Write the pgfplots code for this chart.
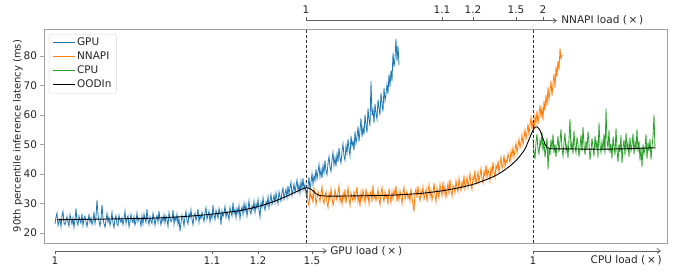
\documentclass[border=0pt]{standalone}
\usepackage{pgfplots}
\pgfplotsset{compat=1.18}
\usepackage{fontspec}
\setmainfont{DejaVu Sans}
\usetikzlibrary{arrows.meta}
\definecolor{gpu}{HTML}{1F77B4}
\definecolor{nnapi}{HTML}{FF7F0E}
\definecolor{cpu}{HTML}{2CA02C}
\definecolor{spine}{HTML}{A0A0A0}
\definecolor{txt}{HTML}{262626}
\begin{document}
\begin{tikzpicture}[font=\fontsize{10.5bp}{12bp}\selectfont, text=txt]
\begin{axis}[
  scale only axis, width=623bp, height=214bp,
  xmin=44, xmax=667, ymin=16.61, ymax=89.15,
  xtick=\empty, ytick={20,30,...,80},
  tick align=outside, ytick pos=left, major tick length=3.5bp,
  tick style={spine, line width=0.7bp},
  axis line style={spine, line width=0.8bp},
  ylabel={90th percentile inference latency (ms)},
  ylabel style={at={(axis description cs:-0.042,0.5)}, anchor=center, font=\fontsize{10bp}{12bp}\selectfont},
  /pgf/number format/assume math mode=true,
  clip=false,
  legend style={at={(axis description cs:0.008,0.977)}, anchor=north west,
    draw=black!15, rounded corners=2bp, fill=white, fill opacity=0.8, text opacity=1,
    font=\fontsize{10.5bp}{12bp}\selectfont, row sep=0.8bp, inner xsep=3bp, inner ysep=2bp},
  legend cell align=left,
  legend image code/.code={\draw[#1] (0bp,0bp) -- (22bp,0bp);},
]
\addplot[gpu, line width=0.8bp] table[x expr=55+\coordindex, y=y, row sep=\\] {
y\\
23.1\\ 25.4\\ 26.8\\ 22.6\\ 23.9\\ 24.7\\ 22.1\\ 25.9\\ 27.3\\ 23.4\\
22.8\\ 24.1\\ 25.6\\ 23.7\\ 22.3\\ 26.2\\ 24.5\\ 23.0\\ 25.1\\ 21.9\\
24.6\\ 28.3\\ 23.5\\ 22.7\\ 25.8\\ 24.2\\ 23.3\\ 26.5\\ 22.5\\ 24.9\\
25.7\\ 23.8\\ 22.2\\ 24.4\\ 26.1\\ 23.6\\ 25.2\\ 22.9\\ 24.0\\ 27.2\\
23.2\\ 25.5\\ 31.2\\ 26.3\\ 23.9\\ 22.4\\ 24.8\\ 29.6\\ 25.0\\ 23.1\\
22.0\\ 24.3\\ 26.6\\ 23.7\\ 25.3\\ 22.6\\ 24.1\\ 27.0\\ 23.4\\ 21.8\\
24.7\\ 25.9\\ 23.0\\ 22.5\\ 26.0\\ 24.4\\ 23.6\\ 25.1\\ 22.8\\ 24.6\\
27.4\\ 23.3\\ 24.9\\ 25.8\\ 22.1\\ 23.8\\ 26.3\\ 24.2\\ 23.5\\ 25.6\\
22.7\\ 24.0\\ 26.8\\ 23.9\\ 25.2\\ 24.5\\ 22.4\\ 25.7\\ 23.1\\ 26.4\\
24.8\\ 23.6\\ 28.1\\ 24.3\\ 22.9\\ 25.5\\ 24.1\\ 23.2\\ 26.7\\ 25.0\\
22.6\\ 24.7\\ 25.9\\ 23.7\\ 27.5\\ 24.4\\ 22.8\\ 25.3\\ 24.0\\ 26.2\\
23.4\\ 25.8\\ 24.6\\ 22.3\\ 26.9\\ 25.1\\ 23.8\\ 24.5\\ 27.8\\ 23.0\\
25.4\\ 24.2\\ 26.4\\ 22.9\\ 25.0\\ 20.6\\ 23.5\\ 26.1\\ 24.8\\ 22.4\\
25.6\\ 27.3\\ 24.0\\ 23.1\\ 26.5\\ 25.2\\ 27.9\\ 24.6\\ 22.8\\ 25.9\\
26.7\\ 24.3\\ 25.5\\ 28.2\\ 23.6\\ 26.0\\ 24.9\\ 27.1\\ 25.4\\ 23.9\\
26.8\\ 28.6\\ 24.7\\ 25.9\\ 27.4\\ 23.8\\ 26.3\\ 25.1\\ 29.5\\ 26.0\\
24.5\\ 27.7\\ 26.2\\ 25.0\\ 28.3\\ 26.9\\ 22.8\\ 27.5\\ 25.6\\ 26.8\\
29.0\\ 25.3\\ 27.2\\ 26.1\\ 24.6\\ 28.7\\ 27.0\\ 25.8\\ 30.4\\ 26.6\\
27.9\\ 25.2\\ 28.4\\ 26.7\\ 29.3\\ 24.9\\ 27.6\\ 28.9\\ 26.3\\ 30.1\\
27.4\\ 29.6\\ 25.8\\ 28.1\\ 31.0\\ 27.3\\ 26.5\\ 29.2\\ 28.0\\ 30.7\\
26.9\\ 29.8\\ 28.5\\ 31.4\\ 27.7\\ 25.4\\ 30.3\\ 28.8\\ 32.0\\ 29.1\\
27.8\\ 30.6\\ 29.4\\ 32.3\\ 28.6\\ 31.0\\ 33.1\\ 29.7\\ 30.9\\ 32.8\\
30.2\\ 33.6\\ 31.4\\ 29.9\\ 34.0\\ 32.2\\ 30.8\\ 33.9\\ 35.2\\ 31.5\\
33.3\\ 34.8\\ 32.1\\ 36.0\\ 33.0\\ 35.4\\ 37.2\\ 32.7\\ 34.5\\ 36.6\\
33.8\\ 35.9\\ 38.0\\ 34.2\\ 36.4\\ 33.5\\ 37.5\\ 35.0\\ 38.6\\ 34.7\\
36.3\\ 33.2\\
32.0\\ 35.6\\ 38.9\\ 34.8\\ 37.2\\ 40.1\\ 36.5\\ 39.4\\ 37.8\\ 41.6\\
38.3\\ 40.7\\ 43.2\\ 39.1\\ 41.5\\ 38.6\\ 42.9\\ 40.4\\ 44.6\\ 41.0\\
39.8\\ 43.7\\ 45.9\\ 42.2\\ 40.9\\ 44.8\\ 47.3\\ 43.0\\ 45.5\\ 42.6\\
46.8\\ 44.1\\ 48.9\\ 45.3\\ 43.8\\ 47.6\\ 50.2\\ 46.0\\ 44.7\\ 49.5\\
47.1\\ 51.8\\ 48.4\\ 46.2\\ 53.0\\ 49.6\\ 51.1\\ 47.9\\ 54.4\\ 50.3\\
52.7\\ 56.1\\ 51.0\\ 54.8\\ 58.9\\ 52.5\\ 55.7\\ 53.4\\ 60.1\\ 56.6\\
54.0\\ 62.3\\ 58.5\\ 56.2\\ 71.5\\ 59.8\\ 61.9\\ 57.3\\ 63.8\\ 60.5\\
58.6\\ 65.2\\ 62.4\\ 60.0\\ 67.5\\ 63.7\\ 61.2\\ 69.3\\ 64.8\\ 66.9\\
70.4\\ 67.2\\ 73.8\\ 69.5\\ 75.1\\ 71.6\\ 81.0\\ 76.3\\ 79.4\\ 85.8\\
78.2\\ 83.5\\ 76.9\\
};
\addlegendentry{GPU}
\addplot[nnapi, line width=0.8bp] table[x expr=307+\coordindex, y=y, row sep=\\] {
y\\
33.8\\ 30.4\\ 29.2\\ 34.5\\ 31.7\\ 32.9\\ 30.1\\ 35.3\\ 33.0\\ 29.6\\
31.9\\ 34.2\\ 32.4\\ 30.7\\ 33.6\\ 35.8\\ 31.2\\ 29.9\\ 32.6\\ 34.0\\
30.3\\ 28.6\\ 33.3\\ 31.5\\ 35.1\\ 32.0\\ 29.4\\ 30.9\\ 34.7\\ 32.8\\
31.1\\ 33.9\\ 36.0\\ 30.6\\ 32.2\\ 29.7\\ 33.5\\ 31.4\\ 34.9\\ 30.0\\
32.7\\ 35.4\\ 31.6\\ 29.3\\ 33.7\\ 32.1\\ 30.8\\ 34.3\\ 31.0\\ 33.2\\
35.7\\ 30.5\\ 32.5\\ 28.9\\ 33.8\\ 31.3\\ 34.6\\ 32.3\\ 30.2\\ 35.0\\
31.8\\ 33.4\\ 29.8\\ 32.9\\ 34.1\\ 30.4\\ 36.3\\ 31.7\\ 33.0\\ 30.9\\
32.6\\ 34.8\\ 31.2\\ 29.5\\ 33.6\\ 35.5\\ 32.0\\ 30.7\\ 34.0\\ 31.9\\
33.1\\ 29.6\\ 35.2\\ 32.4\\ 30.3\\ 33.9\\ 31.5\\ 34.7\\ 32.8\\ 36.1\\
30.6\\ 33.3\\ 31.1\\ 34.4\\ 32.2\\ 29.9\\ 33.7\\ 35.6\\ 31.4\\ 32.7\\
34.1\\ 31.6\\ 33.0\\ 30.8\\ 35.2\\ 32.3\\ 29.5\\ 27.2\\ 33.6\\ 34.9\\
31.8\\ 36.0\\ 32.5\\ 30.9\\ 34.3\\ 33.1\\ 35.7\\ 31.4\\ 32.8\\ 35.0\\
30.6\\ 33.9\\ 36.4\\ 32.2\\ 34.6\\ 31.1\\ 33.4\\ 37.0\\ 32.9\\ 30.4\\
35.3\\ 33.7\\ 31.9\\ 36.6\\ 34.2\\ 32.6\\ 37.5\\ 33.3\\ 35.8\\ 31.7\\
34.8\\ 36.9\\ 33.0\\ 38.2\\ 34.5\\ 32.4\\ 36.1\\ 35.4\\ 33.6\\ 37.8\\
35.2\\ 33.9\\ 38.5\\ 36.0\\ 34.4\\ 37.3\\ 35.7\\ 39.6\\ 34.9\\ 36.8\\
38.9\\ 35.5\\ 37.6\\ 40.2\\ 36.3\\ 34.8\\ 39.0\\ 37.9\\ 41.3\\ 36.7\\
38.4\\ 40.7\\ 37.1\\ 39.5\\ 42.0\\ 38.2\\ 36.9\\ 40.9\\ 39.3\\ 43.1\\
38.8\\ 41.5\\ 40.0\\ 37.7\\ 42.6\\ 39.9\\ 44.0\\ 40.6\\ 38.7\\ 42.9\\
41.7\\ 44.6\\ 40.3\\ 43.4\\ 45.8\\ 41.9\\ 43.0\\ 46.5\\ 42.4\\ 44.8\\
43.9\\ 46.9\\ 45.2\\ 44.0\\ 47.8\\ 46.1\\ 49.0\\ 45.7\\ 48.3\\ 50.4\\
47.2\\ 49.6\\ 51.9\\ 48.8\\ 50.7\\ 53.3\\ 49.9\\ 52.4\\ 55.0\\ 51.8\\
54.2\\ 57.1\\ 53.0\\ 56.4\\ 59.2\\ 55.1\\ 58.0\\
54.7\\ 59.8\\ 57.3\\ 61.5\\ 56.9\\ 60.2\\ 63.4\\ 59.0\\ 62.7\\ 58.1\\
64.9\\ 61.3\\ 66.8\\ 63.0\\ 69.5\\ 65.2\\ 67.9\\ 71.6\\ 66.4\\ 70.8\\
73.9\\ 69.2\\ 76.5\\ 72.8\\ 78.4\\ 75.1\\ 82.6\\ 79.0\\ 80.3\\
};
\addlegendentry{NNAPI}
\addplot[cpu, line width=0.8bp] table[x expr=533+\coordindex, y=y, row sep=\\] {
y\\
52.0\\ 47.5\\ 45.0\\ 50.8\\ 53.6\\ 48.2\\ 46.9\\ 51.4\\ 49.5\\ 54.2\\
47.8\\ 50.9\\ 45.6\\ 48.7\\ 52.3\\ 41.5\\ 49.0\\ 46.3\\ 51.7\\ 48.4\\
53.5\\ 47.0\\ 50.2\\ 45.8\\ 49.6\\ 52.8\\ 47.4\\ 51.0\\ 55.2\\ 48.6\\
46.1\\ 50.5\\ 53.9\\ 47.7\\ 49.9\\ 45.3\\ 51.8\\ 58.6\\ 48.1\\ 50.7\\
46.8\\ 54.7\\ 49.3\\ 47.2\\ 52.5\\ 50.0\\ 45.9\\ 48.9\\ 53.3\\ 47.6\\
56.0\\ 49.7\\ 46.5\\ 51.2\\ 48.3\\ 54.4\\ 50.6\\ 44.8\\ 47.9\\ 52.1\\
49.1\\ 46.0\\ 53.0\\ 48.5\\ 51.5\\ 45.5\\ 57.4\\ 49.8\\ 47.3\\ 50.9\\
48.0\\ 53.7\\ 46.7\\ 62.2\\ 51.1\\ 48.8\\ 54.9\\ 47.1\\ 50.3\\ 45.2\\
52.7\\ 49.4\\ 46.4\\ 55.6\\ 48.2\\ 44.0\\ 50.1\\ 47.5\\ 53.2\\ 43.6\\
49.0\\ 51.6\\ 46.2\\ 54.0\\ 48.6\\ 50.4\\ 45.7\\ 52.4\\ 47.8\\ 49.7\\
53.8\\ 46.6\\ 50.8\\ 48.1\\ 55.3\\ 47.4\\ 51.3\\ 44.5\\ 49.2\\ 42.3\\
50.0\\ 46.9\\ 48.8\\ 53.5\\ 45.1\\ 50.6\\ 47.7\\ 51.9\\ 44.9\\ 49.4\\
52.6\\ 60.1\\ 48.3\\
};
\addlegendentry{CPU}
\addplot[black, line width=0.9bp, smooth, tension=0.4] coordinates {
(57,24.5) (100,24.7) (150,25.0) (180,25.5) (200,26.0) (220,26.7) (240,27.6)
(255,28.7) (270,30.2) (285,32.2) (295,33.8) (303,35.0) (308,35.3) (312,34.6)
(316,33.3) (320,32.7) (330,32.5) (360,32.6) (390,32.8) (420,33.4) (440,34.2)
(460,35.4) (475,36.7) (490,38.6) (500,40.3) (510,42.7) (518,45.3) (525,48.5)
(530,52.5) (534,55.5) (537,56.0) (540,54.8) (543,52.0) (546,49.5) (550,48.6)
(570,48.5) (600,48.4) (630,48.6) (655,48.9)
};
\addlegendentry{OODIn}
\draw[black!80, line width=0.8bp, dash pattern=on 3bp off 2bp] (axis cs:306,16.61) -- (axis cs:306,89.15);
\draw[black!80, line width=0.8bp, dash pattern=on 3bp off 2bp] (axis cs:533,16.61) -- (axis cs:533,89.15);
\end{axis}
\begin{scope}[x=1bp, y=-1bp, shift={(-44bp,243bp)}, spine!60!black, line width=0.7bp]
  % GPU load axis
  \draw[-{Straight Barb[length=3.5bp,width=5bp]}] (55,251) -- (327,251);
  \foreach \x/\l in {55/1, 212/1.1, 258/1.2, 312/1.5} {
    \draw (\x,251) -- (\x,254);
    \node[text=txt] at (\x,261) {\l};
  }
  \node[text=txt, anchor=west, inner sep=0pt] at (330,251) {GPU load (\,×\,)};
  % CPU load axis
  \draw[-{Straight Barb[length=3.5bp,width=5bp]}] (533,251) -- (661,251);
  \draw (533,251) -- (533,254);
  \node[text=txt] at (533,261) {1};
  \node[text=txt, anchor=east, inner sep=0pt] at (662,260) {CPU load (\,×\,)};
  % NNAPI load axis
  \draw[-{Straight Barb[length=3.5bp,width=5bp]}] (306,20.7) -- (557,20.7);
  \foreach \x/\l in {306/1, 442/1.1, 473/1.2, 516/1.5, 543/2} {
    \draw (\x,20.7) -- (\x,17.2);
    \node[text=txt] at (\x,10) {\l};
  }
  \node[text=txt, anchor=west, inner sep=0pt] at (561,20.7) {NNAPI load (\,×\,)};
\end{scope}
\pgfresetboundingbox
\useasboundingbox (-44bp,-29bp) rectangle (629bp,243bp);
\end{tikzpicture}
\end{document}
